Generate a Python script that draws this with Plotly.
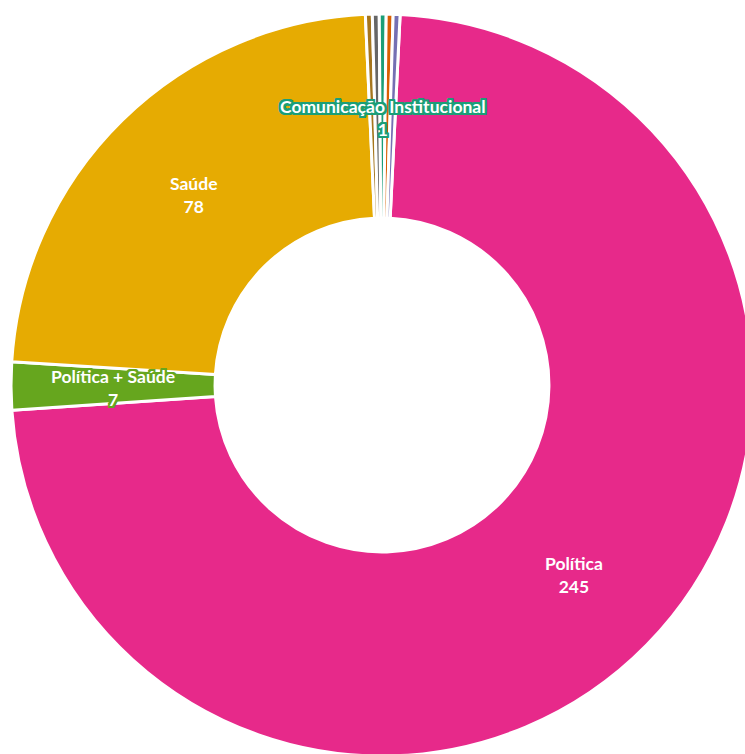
import math
import plotly.graph_objects as go

labels = ["Política", "Política + Saúde", "Saúde", "Economia", "Educação",
          "Comunicação Institucional", "Segurança", "Meio Ambiente"]
values = [245, 7, 78, 1, 1, 1, 1, 1]
colors = ["#e7298a", "#66a61e", "#e6ab02", "#a6761d", "#666666",
          "#1b9e77", "#d95f02", "#7570b3"]
shown = ["Política", "Política + Saúde", "Saúde", "Comunicação Institucional"]

HOLE = 0.45
ROTATION = 2.8

fig = go.Figure(go.Pie(
    labels=labels, values=values, sort=False, direction="clockwise",
    rotation=ROTATION, hole=HOLE,
    marker=dict(colors=colors, line=dict(color="white", width=3)),
    textinfo="none", hoverinfo="label+value", showlegend=False,
    domain=dict(x=[0, 1], y=[0, 1]),
))

total = sum(values)
cum = 0
r_mid = 0.5 * (1 + HOLE) / 2
for lab, val, col in zip(labels, values, colors):
    a0 = ROTATION + 360 * cum / total
    cum += val
    a1 = ROTATION + 360 * cum / total
    if lab in shown:
        am = math.radians((a0 + a1) / 2)
        xp = 0.5 + r_mid * math.sin(am)
        yp = 0.5 + r_mid * math.cos(am)
        sh = ", ".join(f"{dx}px {dy}px 0 {col}" for dx in (-2, -1, 0, 1, 2)
                       for dy in (-2, -1, 0, 1, 2) if (dx or dy))
        fig.add_annotation(
            x=xp, y=yp, xref="paper", yref="paper", showarrow=False,
            xanchor="center", yanchor="middle", yshift=-2,
            text=f"{lab}<br>{val}",
            font=dict(family="Lato", size=17.5, color="white", weight="bold",
                      shadow=sh),
            align="center",
        )

fig.update_layout(
    width=754, height=756,
    margin=dict(l=11, r=1, t=14, b=0),
    paper_bgcolor="white", plot_bgcolor="white",
)

fig.write_html("out.html",
               post_script="document.body.style.margin='0';document.body.style.overflow='hidden';document.documentElement.style.overflow='hidden';")
